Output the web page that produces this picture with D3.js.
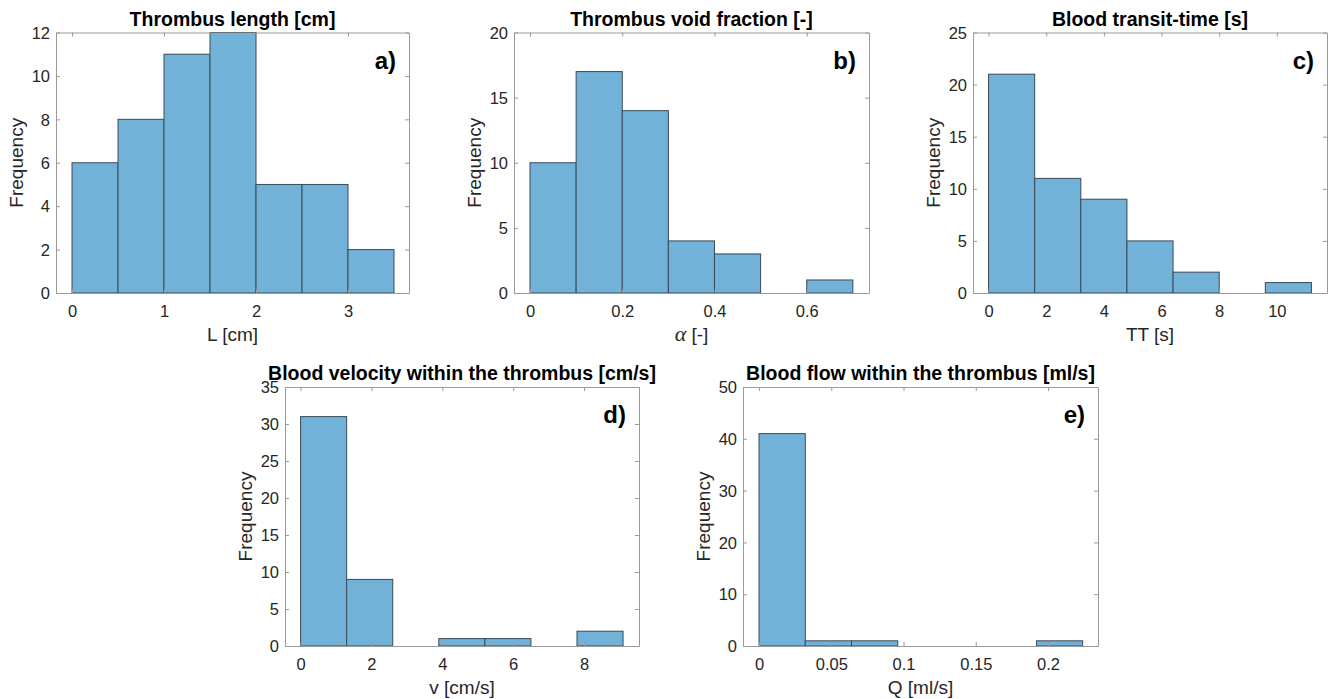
<!DOCTYPE html>
<html>
<head>
<meta charset="utf-8">
<script src="https://cdn.jsdelivr.net/npm/d3@7"></script>
<style>
  body { margin: 0; background: #fff; }
  svg { display: block; font-family: "Liberation Sans", Arial, sans-serif; }
</style>
</head>
<body>
<script>
// Histogram counts and bin edges
const lengthEdges = [0, 0.5, 1, 1.5, 2, 2.5, 3, 3.5];
const lengthCounts = [6, 8, 11, 12, 5, 5, 2];

const voidEdges = [0, 0.1, 0.2, 0.3, 0.4, 0.5, 0.6, 0.7];
const voidCounts = [10, 17, 14, 4, 3, 0, 1];

const transitEdges = [0, 1.6, 3.2, 4.8, 6.4, 8.0, 9.6, 11.2];
const transitCounts = [21, 11, 9, 5, 2, 0, 1];

const velocityEdges = [0, 1.3, 2.6, 3.9, 5.2, 6.5, 7.8, 9.1];
const velocityCounts = [31, 9, 0, 1, 1, 0, 2];

const flowEdges = [0, 0.032, 0.064, 0.096, 0.128, 0.16, 0.192, 0.224];
const flowCounts = [41, 1, 1, 0, 0, 0, 1];

// Axis limits and ticks
const titles = [
    'Thrombus length [cm]',
    'Thrombus void fraction [-]',
    'Blood transit-time [s]',
    'Blood velocity within the thrombus [cm/s]',
    'Blood flow within the thrombus [ml/s]'
];
const xLabels = ['L [cm]', 'ALPHA', 'TT [s]', 'v [cm/s]', 'Q [ml/s]'];
const letters = ['a)', 'b)', 'c)', 'd)', 'e)'];
const xLimits = [[-0.174, 3.663], [-0.0347, 0.735], [-0.54, 11.74], [-0.44, 9.55], [-0.0111, 0.2346]];
const yMax = [12, 20, 25, 35, 50];
const xTicks = [[0, 1, 2, 3], [0, 0.2, 0.4, 0.6], [0, 2, 4, 6, 8, 10], [0, 2, 4, 6, 8], [0, 0.05, 0.1, 0.15, 0.2]];
const yTicks = [[0, 2, 4, 6, 8, 10, 12], [0, 5, 10, 15, 20], [0, 5, 10, 15, 20, 25], [0, 5, 10, 15, 20, 25, 30, 35], [0, 10, 20, 30, 40, 50]];

const edges = [lengthEdges, voidEdges, transitEdges, velocityEdges, flowEdges];
const counts = [lengthCounts, voidCounts, transitCounts, velocityCounts, flowCounts];

// Panel boxes (pixel layout)
const boxes = [
    { left: 56, right: 409, top: 32.5, bottom: 293 },
    { left: 514, right: 869, top: 32.5, bottom: 293 },
    { left: 973, right: 1327, top: 32.5, bottom: 293 },
    { left: 285, right: 639, top: 387, bottom: 646 },
    { left: 743, right: 1098, top: 387, bottom: 646 }
];

const width = 1333;
const height = 699;
const textColor = '#262626';
const boxColor = '#9a9a9a';
const barFill = '#72b2d8';
const barStroke = '#3a4a55';
const tickLen = 4;

const svg = d3.select('body')
    .append('svg')
    .attr('width', width)
    .attr('height', height);

function drawPanel(i) {
    const b = boxes[i];
    const w = b.right - b.left;
    const h = b.bottom - b.top;

    const g = svg.append('g')
        .attr('transform', `translate(${b.left},${b.top})`);

    const x = d3.scaleLinear().domain(xLimits[i]).range([0, w]);
    const y = d3.scaleLinear().domain([0, yMax[i]]).range([h, 0]);

    const bins = counts[i].map((c, k) => ({ x0: edges[i][k], x1: edges[i][k + 1], count: c }))
        .filter(d => d.count > 0);

    g.selectAll('rect.bar')
        .data(bins)
        .enter().append('rect')
        .attr('class', 'bar')
        .attr('x', d => x(d.x0))
        .attr('y', d => y(d.count))
        .attr('width', d => x(d.x1) - x(d.x0))
        .attr('height', d => y(0) - y(d.count))
        .attr('fill', barFill)
        .attr('stroke', barStroke)
        .attr('stroke-width', 1);

    // Axes with inward ticks on all four sides
    const fmt = d => String(d);
    const bottomAxis = g.append('g')
        .attr('transform', `translate(0,${h})`)
        .call(d3.axisBottom(x).tickValues(xTicks[i]).tickSizeInner(-tickLen).tickSizeOuter(0).tickPadding(10).tickFormat(fmt));
    const topAxis = g.append('g')
        .call(d3.axisTop(x).tickValues(xTicks[i]).tickSizeInner(-tickLen).tickSizeOuter(0).tickFormat(''));
    const leftAxis = g.append('g')
        .call(d3.axisLeft(y).tickValues(yTicks[i]).tickSizeInner(-tickLen).tickSizeOuter(0).tickPadding(10).tickFormat(fmt));
    const rightAxis = g.append('g')
        .attr('transform', `translate(${w},0)`)
        .call(d3.axisRight(y).tickValues(yTicks[i]).tickSizeInner(-tickLen).tickSizeOuter(0).tickFormat(''));

    [bottomAxis, topAxis, leftAxis, rightAxis].forEach(a => {
        a.select('.domain').attr('stroke', boxColor);
        a.selectAll('.tick line').attr('stroke', boxColor);
        a.selectAll('.tick text')
            .attr('fill', textColor)
            .style('font-size', '16.5px')
            .style('font-family', '"Liberation Sans", Arial, sans-serif');
    });
    bottomAxis.selectAll('.tick text').attr('dy', null).attr('y', 24);
    leftAxis.selectAll('.tick text').attr('x', -6).attr('dy', '0.35em');

    // Title
    g.append('text')
        .attr('x', w / 2)
        .attr('y', -7)
        .attr('text-anchor', 'middle')
        .attr('fill', '#000')
        .style('font-size', '19.5px')
        .style('font-weight', 'bold')
        .text(titles[i]);

    // X label
    const xl = g.append('text')
        .attr('x', w / 2)
        .attr('y', h + 48)
        .attr('text-anchor', 'middle')
        .attr('fill', textColor)
        .style('font-size', '19px');
    if (xLabels[i] === 'ALPHA') {
        xl.append('tspan')
            .style('font-family', '"Liberation Serif", "DejaVu Serif", serif')
            .style('font-style', 'italic')
            .style('font-size', '22px')
            .text('\u03b1');
        xl.append('tspan').text(' [-]');
    } else {
        xl.text(xLabels[i]);
    }

    // Y label
    g.append('text')
        .attr('transform', `translate(-33,${h / 2}) rotate(-90)`)
        .attr('text-anchor', 'middle')
        .attr('fill', textColor)
        .style('font-size', '19px')
        .text('Frequency');

    // Panel letter
    g.append('text')
        .attr('x', w - 13)
        .attr('y', 36)
        .attr('text-anchor', 'end')
        .attr('fill', '#000')
        .style('font-size', '24px')
        .style('font-weight', 'bold')
        .text(letters[i]);
}

for (let i = 0; i < 5; i++) {
    drawPanel(i);
}
</script>
</body>
</html>
